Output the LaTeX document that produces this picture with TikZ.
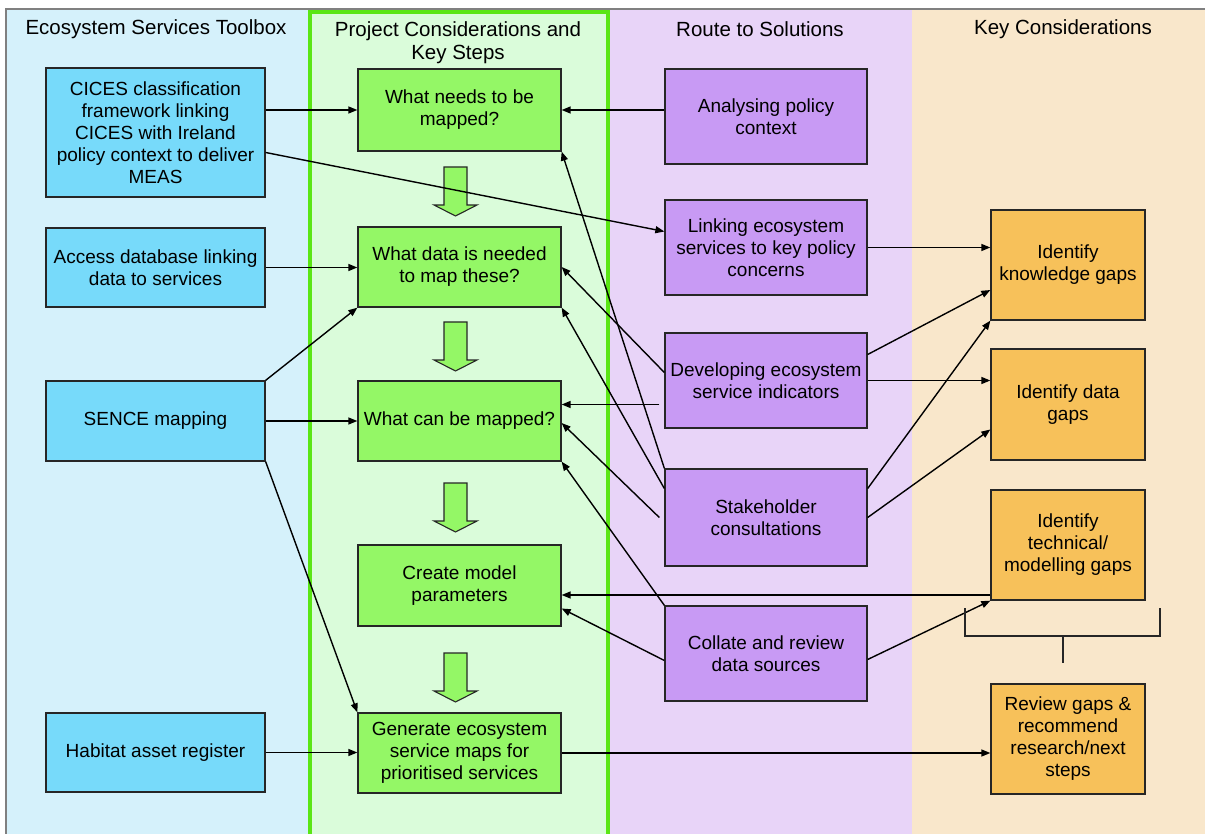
\documentclass[tikz,border=0pt]{standalone}
\usepackage{fontspec}
\setmainfont{Liberation Sans}
\usetikzlibrary{arrows.meta}

\definecolor{tbbg}{RGB}{213,241,251}
\definecolor{tbfill}{RGB}{119,218,250}
\definecolor{pcbg}{RGB}{218,252,218}
\definecolor{pcline}{RGB}{90,230,20}
\definecolor{pcfill}{RGB}{148,247,102}
\definecolor{rsbg}{RGB}{232,212,248}
\definecolor{rsfill}{RGB}{200,154,244}
\definecolor{kcbg}{RGB}{249,231,203}
\definecolor{kcfill}{RGB}{247,193,90}
\definecolor{framegray}{RGB}{128,128,128}

\def\txt{\fontsize{19}{22}\selectfont}
\def\headtxt{\fontsize{20.5}{23}\selectfont}

\tikzset{
  box/.style={draw=black!85, line width=1.3pt, align=center, inner sep=2pt, font=\txt},
  toolbox/.style={box, fill=tbfill, minimum width=219pt},
  stepbox/.style={box, fill=pcfill, minimum width=203pt},
  routebox/.style={box, fill=rsfill, minimum width=202pt, minimum height=95pt},
  gapbox/.style={box, fill=kcfill, minimum width=154pt, minimum height=110pt},
  heading/.style={align=center, font=\headtxt},
  link/.style={-{Triangle[length=9pt,width=7pt]}, line width=1.4pt},
  downarrow/.style={fill=pcfill, draw=black!85, line width=1.1pt, line join=miter}
}

\begin{document}
\begin{tikzpicture}[x=1pt, y=-1pt]
\useasboundingbox (0,0) rectangle (1205,834);

% columns
\fill[tbbg] (6,9) rectangle (310,834);
\fill[pcbg] (310,9) rectangle (608,834);
\fill[rsbg] (608,9) rectangle (912,834);
\fill[kcbg] (912,9) rectangle (1205,834);
\draw[pcline, line width=4pt] (310,834) -- (310,12) -- (608,12) -- (608,834);
\draw[framegray, line width=2pt] (6,834) -- (6,9) -- (1205,9);

\node[heading] (h1) at (156,29) {Ecosystem Services Toolbox};
\node[heading] (h2) at (458,43) {Project Considerations and\\Key Steps};
\node[heading] (h3) at (760,29) {Route to Solutions};
\node[heading] (h4) at (1063,29) {Key Considerations};

% toolbox
\node[toolbox, minimum height=129pt] (b1) at (155.5,132.5) {CICES classification\\framework linking\\CICES with Ireland\\policy context to deliver\\MEAS};
\node[toolbox, minimum height=79pt] (b2) at (155.5,267.5) {Access database linking\\data to services};
\node[toolbox, minimum height=80pt] (b3) at (155.5,421) {SENCE mapping};
\node[toolbox, minimum height=79pt] (b4) at (155.5,752.5) {Habitat asset register};

% key steps
\node[stepbox, minimum height=82pt] (g1) at (459.5,110) {What needs to be\\mapped?};
\node[stepbox, minimum height=80pt] (g2) at (459.5,267) {What data is needed\\to map these?};
\node[stepbox, minimum height=80pt] (g3) at (459.5,421) {What can be mapped?};
\node[stepbox, minimum height=81pt] (g4) at (459.5,585.5) {Create model\\parameters};
\node[stepbox, minimum height=80pt] (g5) at (459.5,753) {Generate ecosystem\\service maps for\\prioritised services};

\foreach \y in {167,322,483,653}{
  \draw[downarrow] (444,\y) -- (467,\y) -- (467,\y+38) -- (477,\y+38) -- (455.5,\y+49) -- (434,\y+38) -- (444,\y+38) -- cycle;
}

% route to solutions
\node[routebox] (p1) at (766,116.5) {Analysing policy\\context};
\node[routebox] (p2) at (766,247.5) {Linking ecosystem\\services to key policy\\concerns};
\node[routebox] (p3) at (766,380.5) {Developing ecosystem\\service indicators};
\node[routebox, minimum height=97pt] (p4) at (766,517.5) {Stakeholder\\consultations};
\node[routebox] (p5) at (766,653.5) {Collate and review\\data sources};

% key considerations
\node[gapbox] (o1) at (1068,265) {Identify\\knowledge gaps};
\node[gapbox, minimum height=111pt] (o2) at (1068,404.5) {Identify data\\gaps};
\node[gapbox] (o3) at (1068,545) {Identify\\technical/\\modelling gaps};
\node[gapbox] (o4) at (1068,739) {Review gaps \&\\recommend\\research/next\\steps};

% connectors
\draw[link] (b1.east |- g1) -- (g1.west);
\draw[link] (p1.west |- g1) -- (g1.east);
\draw[link] ([yshift=-20pt]b1.east) -- ([yshift=16pt]p2.west);
\draw[link] (b2.east) -- (b2.east -| g2.west);
\draw[link] (b3.north east) -- (g2.south west);
\draw[link] (b3.east) -- (g3.west);
\draw[link] (b3.south east) -- (g5.north west);
\draw[link] (b4.east) -- (b4.east -| g5.west);
\draw[link] (g5.east) -- (g5.east -| o4.west);

\draw[link] ([yshift=8pt]p3.west) -- (g2.east);
\draw[link] ([xshift=-5pt,yshift=-24pt]p3.west) -- ([yshift=-24pt]p3.west -| g3.east);
\draw[link] (p4.north west) -- (g1.south east);
\draw[link] ([yshift=29pt]p4.west) -- (g2.south east);
\draw[link] ([xshift=-5pt]p4.west) -- ([yshift=-2pt]g3.east);
\draw[link] (p5.north west) -- (g3.south east);
\draw[link] ([yshift=-7pt]p5.west) -- ([yshift=-23pt]g4.east);
\draw[link] ([yshift=-50pt]o3.west) -- ([yshift=-50pt]o3.west -| g4.east);

\draw[link] (p2.east) -- (p2.east -| o1.west);
\draw[link] ([yshift=26pt]p3.east) -- ([yshift=-25pt]o1.west);
\draw[link] (p3.east) -- (p3.east -| o2.west);
\draw[link] ([yshift=29pt]p4.east) -- (o1.south west);
\draw[link] (p4.east) -- ([yshift=-25pt]o2.west);
\draw[link] ([yshift=-6pt]p5.east) -- (o3.south west);

% bracket
\coordinate (bl) at (965,608);
\coordinate (br) at (1160,608);
\coordinate (bs) at (1063,663);
\draw[line width=1.3pt, black!85] (bl) -- (965,636) -- (1160,636) -- (br);
\draw[line width=1.3pt, black!85] (1063,636) -- (bs);
\end{tikzpicture}
\end{document}
